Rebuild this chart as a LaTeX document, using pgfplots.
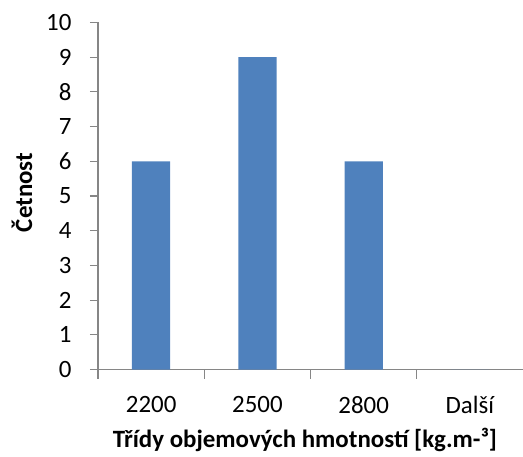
\documentclass[border=0pt]{standalone}
\usepackage{fontspec}
\setmainfont{Carlito}
\usepackage{pgfplots}
\pgfplotsset{compat=1.18}
\definecolor{barblue}{HTML}{4F81BD}
\definecolor{axisgray}{HTML}{868686}

\begin{document}
\begin{tikzpicture}
\useasboundingbox (-98bp,-87bp) rectangle (425bp,369.5bp);
\begin{axis}[
    at={(0,0)}, anchor=south west,
    scale only axis,
    width=425bp, height=347bp,
    xmin=-0.5, xmax=3.5,
    ymin=0, ymax=10,
    axis x line*=bottom, axis y line*=left,
    axis line style={-, draw=axisgray, line width=1.2pt},
    tick style={draw=axisgray, line width=1.2pt},
    tick align=outside,
    ytick={0,1,...,10},
    major tick length=8bp,
    minor tick length=9bp,
    xtick={0,1,2,3},
    xticklabels={2200,2500,2800,Další},
    major x tick style={draw=none},
    minor xtick={-0.5,0.5,1.5,2.5},
    /pgf/number format/assume math mode=true,
    tick label style={font=\fontsize{25}{29}\selectfont},
    yticklabel style={xshift=-15bp},
    xticklabel style={yshift=-15bp},
    xlabel={\textbf{Třídy objemových hmotností [kg.m-³]}},
    ylabel={\textbf{Četnost}},
    label style={font=\fontsize{25}{29}\selectfont},
    xlabel style={at={(axis description cs:0.487,-0.224)}, anchor=base},
    ylabel style={at={(axis description cs:-0.155,0.51)}, anchor=base},
    ybar, bar width=0.36,
]
\addplot[fill=barblue, draw=none] coordinates {(0,6) (1,9) (2,6) (3,0)};
\end{axis}
\end{tikzpicture}
\end{document}
